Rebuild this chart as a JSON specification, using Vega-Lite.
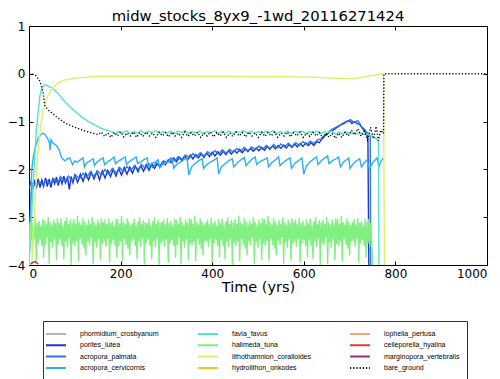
{
"$schema": "https://vega.github.io/schema/vega-lite/v6.json",
"width": 458, "height": 239,
"autosize": {"type": "none"},
"padding": {"left": 29, "top": 26, "right": 13, "bottom": 114},
"title": {"text": "midw_stocks_8yx9_-1wd_20116271424", "fontSize": 14.8, "fontWeight": "normal", "font": "DejaVu Sans", "offset": -4, "color": "#000"},
"datasets": {
"d": [
{"s":"porites_lutea","t":0,"v":-2.4},{"s":"porites_lutea","t":4,"v":-2.25},{"s":"porites_lutea","t":8,"v":-2.42},{"s":"porites_lutea","t":12,"v":-2.22},{"s":"porites_lutea","t":16,"v":-2.4},{"s":"porites_lutea","t":20,"v":-2.2},{"s":"porites_lutea","t":24,"v":-2.38},{"s":"porites_lutea","t":28,"v":-2.22},{"s":"porites_lutea","t":32,"v":-2.35},{"s":"porites_lutea","t":36,"v":-2.18},{"s":"porites_lutea","t":40,"v":-2.36},{"s":"porites_lutea","t":44,"v":-2.2},{"s":"porites_lutea","t":48,"v":-2.38},{"s":"porites_lutea","t":52,"v":-2.18},{"s":"porites_lutea","t":56,"v":-2.3},{"s":"porites_lutea","t":60,"v":-2.16},{"s":"porites_lutea","t":64,"v":-2.34},{"s":"porites_lutea","t":68,"v":-2.17},{"s":"porites_lutea","t":72,"v":-2.3},{"s":"porites_lutea","t":76,"v":-2.14},{"s":"porites_lutea","t":80,"v":-2.28},{"s":"porites_lutea","t":84,"v":-2.16},{"s":"porites_lutea","t":88,"v":-2.42},{"s":"porites_lutea","t":92,"v":-2.15},{"s":"porites_lutea","t":96,"v":-2.28},{"s":"porites_lutea","t":100,"v":-2.12},{"s":"porites_lutea","t":106,"v":-2.27},{"s":"porites_lutea","t":112,"v":-2.1},{"s":"porites_lutea","t":118,"v":-2.25},{"s":"porites_lutea","t":124,"v":-2.08},{"s":"porites_lutea","t":130,"v":-2.22},{"s":"porites_lutea","t":136,"v":-2.06},{"s":"porites_lutea","t":142,"v":-2.2},{"s":"porites_lutea","t":148,"v":-2.05},{"s":"porites_lutea","t":154,"v":-2.22},{"s":"porites_lutea","t":160,"v":-2.03},{"s":"porites_lutea","t":166,"v":-2.18},{"s":"porites_lutea","t":172,"v":-2.02},{"s":"porites_lutea","t":178,"v":-2.15},{"s":"porites_lutea","t":184,"v":-2.0},{"s":"porites_lutea","t":190,"v":-2.14},{"s":"porites_lutea","t":196,"v":-1.98},{"s":"porites_lutea","t":202,"v":-2.12},{"s":"porites_lutea","t":208,"v":-1.96},{"s":"porites_lutea","t":214,"v":-2.1},{"s":"porites_lutea","t":220,"v":-1.95},{"s":"porites_lutea","t":226,"v":-2.08},{"s":"porites_lutea","t":232,"v":-1.93},{"s":"porites_lutea","t":238,"v":-2.05},{"s":"porites_lutea","t":244,"v":-1.92},{"s":"porites_lutea","t":250,"v":-2.04},{"s":"porites_lutea","t":256,"v":-1.9},{"s":"porites_lutea","t":262,"v":-2.02},{"s":"porites_lutea","t":268,"v":-1.88},{"s":"porites_lutea","t":274,"v":-1.98},{"s":"porites_lutea","t":280,"v":-1.88},{"s":"porites_lutea","t":286,"v":-1.95},{"s":"porites_lutea","t":292,"v":-1.84},{"s":"porites_lutea","t":298,"v":-1.9},{"s":"porites_lutea","t":304,"v":-1.8},{"s":"porites_lutea","t":310,"v":-1.86},{"s":"porites_lutea","t":316,"v":-1.76},{"s":"porites_lutea","t":322,"v":-1.84},{"s":"porites_lutea","t":328,"v":-1.75},{"s":"porites_lutea","t":334,"v":-1.82},{"s":"porites_lutea","t":340,"v":-1.72},{"s":"porites_lutea","t":346,"v":-1.8},{"s":"porites_lutea","t":352,"v":-1.7},{"s":"porites_lutea","t":358,"v":-1.78},{"s":"porites_lutea","t":364,"v":-1.69},{"s":"porites_lutea","t":370,"v":-1.76},{"s":"porites_lutea","t":376,"v":-1.67},{"s":"porites_lutea","t":382,"v":-1.75},{"s":"porites_lutea","t":388,"v":-1.66},{"s":"porites_lutea","t":394,"v":-1.73},{"s":"porites_lutea","t":400,"v":-1.64},{"s":"porites_lutea","t":406,"v":-1.72},{"s":"porites_lutea","t":412,"v":-1.63},{"s":"porites_lutea","t":418,"v":-1.7},{"s":"porites_lutea","t":424,"v":-1.62},{"s":"porites_lutea","t":430,"v":-1.69},{"s":"porites_lutea","t":436,"v":-1.61},{"s":"porites_lutea","t":442,"v":-1.68},{"s":"porites_lutea","t":448,"v":-1.6},{"s":"porites_lutea","t":454,"v":-1.66},{"s":"porites_lutea","t":460,"v":-1.58},{"s":"porites_lutea","t":466,"v":-1.65},{"s":"porites_lutea","t":472,"v":-1.57},{"s":"porites_lutea","t":478,"v":-1.63},{"s":"porites_lutea","t":484,"v":-1.56},{"s":"porites_lutea","t":490,"v":-1.62},{"s":"porites_lutea","t":496,"v":-1.55},{"s":"porites_lutea","t":502,"v":-1.61},{"s":"porites_lutea","t":508,"v":-1.54},{"s":"porites_lutea","t":514,"v":-1.6},{"s":"porites_lutea","t":520,"v":-1.52},{"s":"porites_lutea","t":526,"v":-1.58},{"s":"porites_lutea","t":532,"v":-1.51},{"s":"porites_lutea","t":538,"v":-1.57},{"s":"porites_lutea","t":544,"v":-1.5},{"s":"porites_lutea","t":550,"v":-1.56},{"s":"porites_lutea","t":556,"v":-1.49},{"s":"porites_lutea","t":562,"v":-1.55},{"s":"porites_lutea","t":568,"v":-1.48},{"s":"porites_lutea","t":574,"v":-1.54},{"s":"porites_lutea","t":580,"v":-1.47},{"s":"porites_lutea","t":586,"v":-1.53},{"s":"porites_lutea","t":592,"v":-1.46},{"s":"porites_lutea","t":598,"v":-1.52},{"s":"porites_lutea","t":604,"v":-1.45},{"s":"porites_lutea","t":610,"v":-1.5},{"s":"porites_lutea","t":616,"v":-1.44},{"s":"porites_lutea","t":622,"v":-1.5},{"s":"porites_lutea","t":628,"v":-1.42},{"s":"porites_lutea","t":634,"v":-1.44},{"s":"porites_lutea","t":640,"v":-1.36},{"s":"porites_lutea","t":646,"v":-1.3},{"s":"porites_lutea","t":652,"v":-1.26},{"s":"porites_lutea","t":658,"v":-1.2},{"s":"porites_lutea","t":664,"v":-1.18},{"s":"porites_lutea","t":670,"v":-1.14},{"s":"porites_lutea","t":676,"v":-1.1},{"s":"porites_lutea","t":682,"v":-1.06},{"s":"porites_lutea","t":688,"v":-1.04},{"s":"porites_lutea","t":694,"v":-1.0},{"s":"porites_lutea","t":700,"v":-0.98},{"s":"porites_lutea","t":705,"v":-1.04},{"s":"porites_lutea","t":710,"v":-1.0},{"s":"porites_lutea","t":716,"v":-1.04},{"s":"porites_lutea","t":722,"v":-1.06},{"s":"porites_lutea","t":728,"v":-1.14},{"s":"porites_lutea","t":734,"v":-1.22},{"s":"porites_lutea","t":738,"v":-1.28},{"s":"porites_lutea","t":740,"v":-1.35},{"s":"porites_lutea","t":742,"v":-4},

{"s":"acropora_palmata","t":0,"v":-4},{"s":"acropora_palmata","t":4,"v":-2.6},{"s":"acropora_palmata","t":8,"v":-2.3},{"s":"acropora_palmata","t":15,"v":-2.36},{"s":"acropora_palmata","t":22,"v":-2.25},{"s":"acropora_palmata","t":30,"v":-2.33},{"s":"acropora_palmata","t":38,"v":-2.22},{"s":"acropora_palmata","t":46,"v":-2.3},{"s":"acropora_palmata","t":54,"v":-2.2},{"s":"acropora_palmata","t":62,"v":-2.28},{"s":"acropora_palmata","t":70,"v":-2.16},{"s":"acropora_palmata","t":78,"v":-2.26},{"s":"acropora_palmata","t":86,"v":-2.14},{"s":"acropora_palmata","t":94,"v":-2.24},{"s":"acropora_palmata","t":102,"v":-2.12},{"s":"acropora_palmata","t":110,"v":-2.2},{"s":"acropora_palmata","t":118,"v":-2.08},{"s":"acropora_palmata","t":126,"v":-2.17},{"s":"acropora_palmata","t":134,"v":-2.05},{"s":"acropora_palmata","t":142,"v":-2.14},{"s":"acropora_palmata","t":150,"v":-2.03},{"s":"acropora_palmata","t":158,"v":-2.12},{"s":"acropora_palmata","t":166,"v":-2.0},{"s":"acropora_palmata","t":174,"v":-2.1},{"s":"acropora_palmata","t":182,"v":-1.98},{"s":"acropora_palmata","t":190,"v":-2.08},{"s":"acropora_palmata","t":198,"v":-1.96},{"s":"acropora_palmata","t":206,"v":-2.05},{"s":"acropora_palmata","t":214,"v":-1.94},{"s":"acropora_palmata","t":222,"v":-2.03},{"s":"acropora_palmata","t":230,"v":-1.92},{"s":"acropora_palmata","t":238,"v":-2.0},{"s":"acropora_palmata","t":246,"v":-1.9},{"s":"acropora_palmata","t":254,"v":-1.98},{"s":"acropora_palmata","t":262,"v":-1.88},{"s":"acropora_palmata","t":270,"v":-1.96},{"s":"acropora_palmata","t":278,"v":-1.86},{"s":"acropora_palmata","t":286,"v":-1.92},{"s":"acropora_palmata","t":294,"v":-1.82},{"s":"acropora_palmata","t":302,"v":-1.86},{"s":"acropora_palmata","t":310,"v":-1.76},{"s":"acropora_palmata","t":318,"v":-1.82},{"s":"acropora_palmata","t":326,"v":-1.73},{"s":"acropora_palmata","t":334,"v":-1.79},{"s":"acropora_palmata","t":342,"v":-1.7},{"s":"acropora_palmata","t":350,"v":-1.76},{"s":"acropora_palmata","t":358,"v":-1.67},{"s":"acropora_palmata","t":366,"v":-1.74},{"s":"acropora_palmata","t":374,"v":-1.65},{"s":"acropora_palmata","t":382,"v":-1.72},{"s":"acropora_palmata","t":390,"v":-1.63},{"s":"acropora_palmata","t":398,"v":-1.7},{"s":"acropora_palmata","t":406,"v":-1.61},{"s":"acropora_palmata","t":414,"v":-1.68},{"s":"acropora_palmata","t":422,"v":-1.59},{"s":"acropora_palmata","t":430,"v":-1.66},{"s":"acropora_palmata","t":438,"v":-1.58},{"s":"acropora_palmata","t":446,"v":-1.64},{"s":"acropora_palmata","t":454,"v":-1.56},{"s":"acropora_palmata","t":462,"v":-1.63},{"s":"acropora_palmata","t":470,"v":-1.54},{"s":"acropora_palmata","t":478,"v":-1.61},{"s":"acropora_palmata","t":486,"v":-1.53},{"s":"acropora_palmata","t":494,"v":-1.59},{"s":"acropora_palmata","t":502,"v":-1.51},{"s":"acropora_palmata","t":510,"v":-1.58},{"s":"acropora_palmata","t":518,"v":-1.5},{"s":"acropora_palmata","t":526,"v":-1.56},{"s":"acropora_palmata","t":534,"v":-1.48},{"s":"acropora_palmata","t":542,"v":-1.55},{"s":"acropora_palmata","t":550,"v":-1.47},{"s":"acropora_palmata","t":558,"v":-1.53},{"s":"acropora_palmata","t":566,"v":-1.45},{"s":"acropora_palmata","t":574,"v":-1.52},{"s":"acropora_palmata","t":582,"v":-1.44},{"s":"acropora_palmata","t":590,"v":-1.5},{"s":"acropora_palmata","t":598,"v":-1.42},{"s":"acropora_palmata","t":606,"v":-1.48},{"s":"acropora_palmata","t":614,"v":-1.41},{"s":"acropora_palmata","t":622,"v":-1.46},{"s":"acropora_palmata","t":630,"v":-1.38},{"s":"acropora_palmata","t":638,"v":-1.36},{"s":"acropora_palmata","t":646,"v":-1.28},{"s":"acropora_palmata","t":654,"v":-1.22},{"s":"acropora_palmata","t":662,"v":-1.16},{"s":"acropora_palmata","t":670,"v":-1.12},{"s":"acropora_palmata","t":678,"v":-1.08},{"s":"acropora_palmata","t":686,"v":-1.03},{"s":"acropora_palmata","t":694,"v":-0.99},{"s":"acropora_palmata","t":702,"v":-0.96},{"s":"acropora_palmata","t":710,"v":-1.02},{"s":"acropora_palmata","t":718,"v":-0.98},{"s":"acropora_palmata","t":726,"v":-1.1},{"s":"acropora_palmata","t":734,"v":-1.18},{"s":"acropora_palmata","t":740,"v":-1.25},{"s":"acropora_palmata","t":745,"v":-1.3},{"s":"acropora_palmata","t":746,"v":-4},

{"s":"acropora_cervicornis","t":0,"v":-4},{"s":"acropora_cervicornis","t":3,"v":-3.0},{"s":"acropora_cervicornis","t":6,"v":-2.0},{"s":"acropora_cervicornis","t":10,"v":-1.7},{"s":"acropora_cervicornis","t":15,"v":-1.5},{"s":"acropora_cervicornis","t":20,"v":-1.35},{"s":"acropora_cervicornis","t":26,"v":-1.27},{"s":"acropora_cervicornis","t":31,"v":-1.24},{"s":"acropora_cervicornis","t":36,"v":-1.28},{"s":"acropora_cervicornis","t":42,"v":-1.38},{"s":"acropora_cervicornis","t":45,"v":-1.45},{"s":"acropora_cervicornis","t":46,"v":-1.6},{"s":"acropora_cervicornis","t":48,"v":-1.38},{"s":"acropora_cervicornis","t":52,"v":-1.45},{"s":"acropora_cervicornis","t":60,"v":-1.5},{"s":"acropora_cervicornis","t":66,"v":-1.6},{"s":"acropora_cervicornis","t":71,"v":-1.75},{"s":"acropora_cervicornis","t":78,"v":-1.82},{"s":"acropora_cervicornis","t":84,"v":-1.78},{"s":"acropora_cervicornis","t":89,"v":-1.76},{"s":"acropora_cervicornis","t":95,"v":-1.9},{"s":"acropora_cervicornis","t":100,"v":-1.82},{"s":"acropora_cervicornis","t":105,"v":-1.85},{"s":"acropora_cervicornis","t":112,"v":-1.8},{"s":"acropora_cervicornis","t":118,"v":-1.76},{"s":"acropora_cervicornis","t":121,"v":-1.95},{"s":"acropora_cervicornis","t":126,"v":-1.86},{"s":"acropora_cervicornis","t":133,"v":-1.82},{"s":"acropora_cervicornis","t":140,"v":-1.78},{"s":"acropora_cervicornis","t":143,"v":-1.92},{"s":"acropora_cervicornis","t":148,"v":-1.85},{"s":"acropora_cervicornis","t":155,"v":-1.8},{"s":"acropora_cervicornis","t":162,"v":-1.76},{"s":"acropora_cervicornis","t":165,"v":-1.9},{"s":"acropora_cervicornis","t":172,"v":-1.84},{"s":"acropora_cervicornis","t":180,"v":-1.79},{"s":"acropora_cervicornis","t":186,"v":-1.74},{"s":"acropora_cervicornis","t":189,"v":-1.88},{"s":"acropora_cervicornis","t":195,"v":-1.83},{"s":"acropora_cervicornis","t":203,"v":-1.78},{"s":"acropora_cervicornis","t":210,"v":-1.74},{"s":"acropora_cervicornis","t":213,"v":-1.9},{"s":"acropora_cervicornis","t":220,"v":-1.83},{"s":"acropora_cervicornis","t":228,"v":-1.78},{"s":"acropora_cervicornis","t":234,"v":-1.74},{"s":"acropora_cervicornis","t":237,"v":-1.88},{"s":"acropora_cervicornis","t":244,"v":-1.84},{"s":"acropora_cervicornis","t":252,"v":-1.79},{"s":"acropora_cervicornis","t":258,"v":-1.76},{"s":"acropora_cervicornis","t":261,"v":-1.95},{"s":"acropora_cervicornis","t":268,"v":-1.88},{"s":"acropora_cervicornis","t":276,"v":-1.84},{"s":"acropora_cervicornis","t":282,"v":-1.8},{"s":"acropora_cervicornis","t":285,"v":-1.97},{"s":"acropora_cervicornis","t":292,"v":-1.9},{"s":"acropora_cervicornis","t":300,"v":-1.86},{"s":"acropora_cervicornis","t":308,"v":-1.82},{"s":"acropora_cervicornis","t":313,"v":-1.78},{"s":"acropora_cervicornis","t":316,"v":-1.98},{"s":"acropora_cervicornis","t":322,"v":-1.9},{"s":"acropora_cervicornis","t":330,"v":-1.85},{"s":"acropora_cervicornis","t":338,"v":-1.8},{"s":"acropora_cervicornis","t":345,"v":-1.76},{"s":"acropora_cervicornis","t":349,"v":-2.12},{"s":"acropora_cervicornis","t":355,"v":-1.95},{"s":"acropora_cervicornis","t":362,"v":-1.88},{"s":"acropora_cervicornis","t":370,"v":-1.82},{"s":"acropora_cervicornis","t":378,"v":-1.78},{"s":"acropora_cervicornis","t":381,"v":-1.98},{"s":"acropora_cervicornis","t":388,"v":-1.9},{"s":"acropora_cervicornis","t":396,"v":-1.85},{"s":"acropora_cervicornis","t":405,"v":-1.8},{"s":"acropora_cervicornis","t":411,"v":-1.76},{"s":"acropora_cervicornis","t":414,"v":-2.1},{"s":"acropora_cervicornis","t":420,"v":-1.95},{"s":"acropora_cervicornis","t":428,"v":-1.88},{"s":"acropora_cervicornis","t":436,"v":-1.82},{"s":"acropora_cervicornis","t":444,"v":-1.78},{"s":"acropora_cervicornis","t":447,"v":-1.95},{"s":"acropora_cervicornis","t":455,"v":-1.86},{"s":"acropora_cervicornis","t":463,"v":-1.8},{"s":"acropora_cervicornis","t":470,"v":-1.75},{"s":"acropora_cervicornis","t":474,"v":-1.92},{"s":"acropora_cervicornis","t":480,"v":-1.85},{"s":"acropora_cervicornis","t":488,"v":-1.78},{"s":"acropora_cervicornis","t":494,"v":-1.74},{"s":"acropora_cervicornis","t":497,"v":-1.9},{"s":"acropora_cervicornis","t":504,"v":-1.84},{"s":"acropora_cervicornis","t":512,"v":-1.8},{"s":"acropora_cervicornis","t":520,"v":-1.76},{"s":"acropora_cervicornis","t":523,"v":-1.95},{"s":"acropora_cervicornis","t":530,"v":-1.86},{"s":"acropora_cervicornis","t":538,"v":-1.8},{"s":"acropora_cervicornis","t":545,"v":-1.74},{"s":"acropora_cervicornis","t":548,"v":-1.92},{"s":"acropora_cervicornis","t":556,"v":-1.85},{"s":"acropora_cervicornis","t":563,"v":-1.8},{"s":"acropora_cervicornis","t":570,"v":-1.76},{"s":"acropora_cervicornis","t":573,"v":-1.98},{"s":"acropora_cervicornis","t":580,"v":-1.88},{"s":"acropora_cervicornis","t":588,"v":-1.82},{"s":"acropora_cervicornis","t":596,"v":-1.76},{"s":"acropora_cervicornis","t":600,"v":-2.1},{"s":"acropora_cervicornis","t":606,"v":-1.92},{"s":"acropora_cervicornis","t":614,"v":-1.84},{"s":"acropora_cervicornis","t":622,"v":-1.78},{"s":"acropora_cervicornis","t":628,"v":-1.74},{"s":"acropora_cervicornis","t":631,"v":-1.9},{"s":"acropora_cervicornis","t":638,"v":-1.82},{"s":"acropora_cervicornis","t":646,"v":-1.76},{"s":"acropora_cervicornis","t":652,"v":-1.72},{"s":"acropora_cervicornis","t":655,"v":-1.88},{"s":"acropora_cervicornis","t":662,"v":-1.82},{"s":"acropora_cervicornis","t":670,"v":-1.78},{"s":"acropora_cervicornis","t":676,"v":-1.74},{"s":"acropora_cervicornis","t":680,"v":-1.95},{"s":"acropora_cervicornis","t":686,"v":-1.85},{"s":"acropora_cervicornis","t":693,"v":-1.8},{"s":"acropora_cervicornis","t":698,"v":-1.76},{"s":"acropora_cervicornis","t":701,"v":-1.98},{"s":"acropora_cervicornis","t":708,"v":-1.88},{"s":"acropora_cervicornis","t":715,"v":-1.82},{"s":"acropora_cervicornis","t":722,"v":-1.78},{"s":"acropora_cervicornis","t":726,"v":-1.95},{"s":"acropora_cervicornis","t":732,"v":-1.86},{"s":"acropora_cervicornis","t":738,"v":-1.8},{"s":"acropora_cervicornis","t":743,"v":-2.0},{"s":"acropora_cervicornis","t":748,"v":-1.9},{"s":"acropora_cervicornis","t":754,"v":-1.82},{"s":"acropora_cervicornis","t":760,"v":-1.76},{"s":"acropora_cervicornis","t":764,"v":-1.95},{"s":"acropora_cervicornis","t":769,"v":-1.82},{"s":"acropora_cervicornis","t":774,"v":-1.76},

{"s":"favia_favus","t":0,"v":-4},{"s":"favia_favus","t":4,"v":-3.3},{"s":"favia_favus","t":8,"v":-2.5},{"s":"favia_favus","t":12,"v":-1.8},{"s":"favia_favus","t":16,"v":-1.2},{"s":"favia_favus","t":20,"v":-0.8},{"s":"favia_favus","t":24,"v":-0.45},{"s":"favia_favus","t":28,"v":-0.3},{"s":"favia_favus","t":35,"v":-0.23},{"s":"favia_favus","t":45,"v":-0.27},{"s":"favia_favus","t":55,"v":-0.33},{"s":"favia_favus","t":64,"v":-0.42},{"s":"favia_favus","t":75,"v":-0.55},{"s":"favia_favus","t":88,"v":-0.68},{"s":"favia_favus","t":100,"v":-0.78},{"s":"favia_favus","t":115,"v":-0.9},{"s":"favia_favus","t":130,"v":-1.0},{"s":"favia_favus","t":145,"v":-1.08},{"s":"favia_favus","t":160,"v":-1.15},{"s":"favia_favus","t":173,"v":-1.19},{"s":"favia_favus","t":181,"v":-1.21},{"s":"favia_favus","t":189,"v":-1.25},{"s":"favia_favus","t":197,"v":-1.2},{"s":"favia_favus","t":205,"v":-1.24},{"s":"favia_favus","t":213,"v":-1.19},{"s":"favia_favus","t":221,"v":-1.25},{"s":"favia_favus","t":229,"v":-1.21},{"s":"favia_favus","t":237,"v":-1.24},{"s":"favia_favus","t":245,"v":-1.19},{"s":"favia_favus","t":253,"v":-1.25},{"s":"favia_favus","t":261,"v":-1.2},{"s":"favia_favus","t":269,"v":-1.23},{"s":"favia_favus","t":277,"v":-1.19},{"s":"favia_favus","t":285,"v":-1.25},{"s":"favia_favus","t":293,"v":-1.21},{"s":"favia_favus","t":301,"v":-1.24},{"s":"favia_favus","t":309,"v":-1.2},{"s":"favia_favus","t":317,"v":-1.25},{"s":"favia_favus","t":325,"v":-1.2},{"s":"favia_favus","t":333,"v":-1.23},{"s":"favia_favus","t":341,"v":-1.19},{"s":"favia_favus","t":349,"v":-1.25},{"s":"favia_favus","t":357,"v":-1.21},{"s":"favia_favus","t":365,"v":-1.24},{"s":"favia_favus","t":373,"v":-1.2},{"s":"favia_favus","t":381,"v":-1.25},{"s":"favia_favus","t":389,"v":-1.21},{"s":"favia_favus","t":397,"v":-1.23},{"s":"favia_favus","t":405,"v":-1.19},{"s":"favia_favus","t":413,"v":-1.25},{"s":"favia_favus","t":421,"v":-1.2},{"s":"favia_favus","t":429,"v":-1.24},{"s":"favia_favus","t":437,"v":-1.2},{"s":"favia_favus","t":445,"v":-1.25},{"s":"favia_favus","t":453,"v":-1.21},{"s":"favia_favus","t":461,"v":-1.23},{"s":"favia_favus","t":469,"v":-1.19},{"s":"favia_favus","t":477,"v":-1.25},{"s":"favia_favus","t":485,"v":-1.2},{"s":"favia_favus","t":493,"v":-1.24},{"s":"favia_favus","t":501,"v":-1.21},{"s":"favia_favus","t":509,"v":-1.25},{"s":"favia_favus","t":517,"v":-1.2},{"s":"favia_favus","t":525,"v":-1.23},{"s":"favia_favus","t":533,"v":-1.19},{"s":"favia_favus","t":541,"v":-1.25},{"s":"favia_favus","t":549,"v":-1.21},{"s":"favia_favus","t":557,"v":-1.24},{"s":"favia_favus","t":565,"v":-1.2},{"s":"favia_favus","t":573,"v":-1.25},{"s":"favia_favus","t":581,"v":-1.2},{"s":"favia_favus","t":589,"v":-1.23},{"s":"favia_favus","t":597,"v":-1.2},{"s":"favia_favus","t":605,"v":-1.25},{"s":"favia_favus","t":613,"v":-1.21},{"s":"favia_favus","t":621,"v":-1.24},{"s":"favia_favus","t":629,"v":-1.2},{"s":"favia_favus","t":637,"v":-1.25},{"s":"favia_favus","t":645,"v":-1.21},{"s":"favia_favus","t":653,"v":-1.23},{"s":"favia_favus","t":661,"v":-1.2},{"s":"favia_favus","t":669,"v":-1.26},{"s":"favia_favus","t":677,"v":-1.22},{"s":"favia_favus","t":685,"v":-1.25},{"s":"favia_favus","t":693,"v":-1.22},{"s":"favia_favus","t":701,"v":-1.26},{"s":"favia_favus","t":709,"v":-1.23},{"s":"favia_favus","t":717,"v":-1.26},{"s":"favia_favus","t":725,"v":-1.24},{"s":"favia_favus","t":733,"v":-1.27},{"s":"favia_favus","t":741,"v":-1.26},{"s":"favia_favus","t":749,"v":-1.3},{"s":"favia_favus","t":755,"v":-1.33},{"s":"favia_favus","t":760,"v":-1.38},{"s":"favia_favus","t":763,"v":-1.42},{"s":"favia_favus","t":764,"v":-4},

{"s":"halimeda_tuna","t":0,"v":-4},
{"s":"halimeda_tuna","t":2,"v":-3.1},{"s":"halimeda_tuna","t":4,"v":-3.5},{"s":"halimeda_tuna","t":6,"v":-3.05},{"s":"halimeda_tuna","t":8,"v":-3.62},{"s":"halimeda_tuna","t":10,"v":-3.15},{"s":"halimeda_tuna","t":12,"v":-3.45},{"s":"halimeda_tuna","t":14,"v":-3.02},{"s":"halimeda_tuna","t":16,"v":-3.95},{"s":"halimeda_tuna","t":18,"v":-3.12},{"s":"halimeda_tuna","t":20,"v":-3.55},{"s":"halimeda_tuna","t":22,"v":-3.08},{"s":"halimeda_tuna","t":24,"v":-3.48},{"s":"halimeda_tuna","t":26,"v":-3.18},{"s":"halimeda_tuna","t":28,"v":-3.6},{"s":"halimeda_tuna","t":30,"v":-3.04},{"s":"halimeda_tuna","t":32,"v":-3.85},
{"s":"halimeda_tuna","t":34,"v":-3.06},{"s":"halimeda_tuna","t":36,"v":-3.58},{"s":"halimeda_tuna","t":38,"v":-3.14},{"s":"halimeda_tuna","t":40,"v":-3.42},{"s":"halimeda_tuna","t":42,"v":-3.0},{"s":"halimeda_tuna","t":44,"v":-3.98},{"s":"halimeda_tuna","t":46,"v":-3.1},{"s":"halimeda_tuna","t":48,"v":-3.52},{"s":"halimeda_tuna","t":50,"v":-3.16},{"s":"halimeda_tuna","t":52,"v":-3.64},{"s":"halimeda_tuna","t":54,"v":-3.05},{"s":"halimeda_tuna","t":56,"v":-3.46},{"s":"halimeda_tuna","t":58,"v":-3.12},{"s":"halimeda_tuna","t":60,"v":-3.9},{"s":"halimeda_tuna","t":62,"v":-3.02},{"s":"halimeda_tuna","t":64,"v":-3.56},
{"s":"halimeda_tuna","t":66,"v":-3.12},{"s":"halimeda_tuna","t":68,"v":-3.47},{"s":"halimeda_tuna","t":70,"v":-3.03},{"s":"halimeda_tuna","t":72,"v":-3.6},{"s":"halimeda_tuna","t":74,"v":-3.17},{"s":"halimeda_tuna","t":76,"v":-3.88},{"s":"halimeda_tuna","t":78,"v":-3.08},{"s":"halimeda_tuna","t":80,"v":-3.5},{"s":"halimeda_tuna","t":82,"v":-3.0},{"s":"halimeda_tuna","t":84,"v":-3.63},{"s":"halimeda_tuna","t":86,"v":-3.14},{"s":"halimeda_tuna","t":88,"v":-3.44},{"s":"halimeda_tuna","t":90,"v":-3.06},{"s":"halimeda_tuna","t":92,"v":-4.0},{"s":"halimeda_tuna","t":94,"v":-3.11},{"s":"halimeda_tuna","t":96,"v":-3.54},
{"s":"halimeda_tuna","t":98,"v":-3.04},{"s":"halimeda_tuna","t":100,"v":-3.6},{"s":"halimeda_tuna","t":102,"v":-3.13},{"s":"halimeda_tuna","t":104,"v":-3.5},{"s":"halimeda_tuna","t":106,"v":-2.97},{"s":"halimeda_tuna","t":108,"v":-3.92},{"s":"halimeda_tuna","t":110,"v":-3.1},{"s":"halimeda_tuna","t":112,"v":-3.45},{"s":"halimeda_tuna","t":114,"v":-3.15},{"s":"halimeda_tuna","t":116,"v":-3.58},{"s":"halimeda_tuna","t":118,"v":-3.02},{"s":"halimeda_tuna","t":120,"v":-3.66},{"s":"halimeda_tuna","t":122,"v":-3.09},{"s":"halimeda_tuna","t":124,"v":-3.8},{"s":"halimeda_tuna","t":126,"v":-3.16},{"s":"halimeda_tuna","t":128,"v":-3.5},
{"s":"halimeda_tuna","t":130,"v":-3.06},{"s":"halimeda_tuna","t":132,"v":-3.58},{"s":"halimeda_tuna","t":134,"v":-3.14},{"s":"halimeda_tuna","t":136,"v":-3.42},{"s":"halimeda_tuna","t":138,"v":-3.0},{"s":"halimeda_tuna","t":140,"v":-3.98},{"s":"halimeda_tuna","t":142,"v":-3.1},{"s":"halimeda_tuna","t":144,"v":-3.52},{"s":"halimeda_tuna","t":146,"v":-3.16},{"s":"halimeda_tuna","t":148,"v":-3.64},{"s":"halimeda_tuna","t":150,"v":-3.05},{"s":"halimeda_tuna","t":152,"v":-3.46},{"s":"halimeda_tuna","t":154,"v":-3.12},{"s":"halimeda_tuna","t":156,"v":-3.9},{"s":"halimeda_tuna","t":158,"v":-3.02},{"s":"halimeda_tuna","t":160,"v":-3.56},
{"s":"halimeda_tuna","t":162,"v":-3.1},{"s":"halimeda_tuna","t":164,"v":-3.5},{"s":"halimeda_tuna","t":166,"v":-3.05},{"s":"halimeda_tuna","t":168,"v":-3.62},{"s":"halimeda_tuna","t":170,"v":-3.15},{"s":"halimeda_tuna","t":172,"v":-3.45},{"s":"halimeda_tuna","t":174,"v":-3.02},{"s":"halimeda_tuna","t":176,"v":-3.95},{"s":"halimeda_tuna","t":178,"v":-3.12},{"s":"halimeda_tuna","t":180,"v":-3.55},{"s":"halimeda_tuna","t":182,"v":-3.08},{"s":"halimeda_tuna","t":184,"v":-3.48},{"s":"halimeda_tuna","t":186,"v":-3.18},{"s":"halimeda_tuna","t":188,"v":-3.6},{"s":"halimeda_tuna","t":190,"v":-3.04},{"s":"halimeda_tuna","t":192,"v":-3.85},
{"s":"halimeda_tuna","t":194,"v":-3.04},{"s":"halimeda_tuna","t":196,"v":-3.6},{"s":"halimeda_tuna","t":198,"v":-3.13},{"s":"halimeda_tuna","t":200,"v":-3.5},{"s":"halimeda_tuna","t":202,"v":-2.97},{"s":"halimeda_tuna","t":204,"v":-3.92},{"s":"halimeda_tuna","t":206,"v":-3.1},{"s":"halimeda_tuna","t":208,"v":-3.45},{"s":"halimeda_tuna","t":210,"v":-3.15},{"s":"halimeda_tuna","t":212,"v":-3.58},{"s":"halimeda_tuna","t":214,"v":-3.02},{"s":"halimeda_tuna","t":216,"v":-3.66},{"s":"halimeda_tuna","t":218,"v":-3.09},{"s":"halimeda_tuna","t":220,"v":-3.8},{"s":"halimeda_tuna","t":222,"v":-3.16},{"s":"halimeda_tuna","t":224,"v":-3.5},
{"s":"halimeda_tuna","t":226,"v":-3.12},{"s":"halimeda_tuna","t":228,"v":-3.47},{"s":"halimeda_tuna","t":230,"v":-3.03},{"s":"halimeda_tuna","t":232,"v":-3.6},{"s":"halimeda_tuna","t":234,"v":-3.17},{"s":"halimeda_tuna","t":236,"v":-3.88},{"s":"halimeda_tuna","t":238,"v":-3.08},{"s":"halimeda_tuna","t":240,"v":-3.5},{"s":"halimeda_tuna","t":242,"v":-3.0},{"s":"halimeda_tuna","t":244,"v":-3.63},{"s":"halimeda_tuna","t":246,"v":-3.14},{"s":"halimeda_tuna","t":248,"v":-3.44},{"s":"halimeda_tuna","t":250,"v":-3.06},{"s":"halimeda_tuna","t":252,"v":-4.0},{"s":"halimeda_tuna","t":254,"v":-3.11},{"s":"halimeda_tuna","t":256,"v":-3.54},
{"s":"halimeda_tuna","t":258,"v":-3.12},{"s":"halimeda_tuna","t":260,"v":-3.47},{"s":"halimeda_tuna","t":262,"v":-3.03},{"s":"halimeda_tuna","t":264,"v":-3.6},{"s":"halimeda_tuna","t":266,"v":-3.17},{"s":"halimeda_tuna","t":268,"v":-3.88},{"s":"halimeda_tuna","t":270,"v":-3.08},{"s":"halimeda_tuna","t":272,"v":-3.5},{"s":"halimeda_tuna","t":274,"v":-3.0},{"s":"halimeda_tuna","t":276,"v":-3.63},{"s":"halimeda_tuna","t":278,"v":-3.14},{"s":"halimeda_tuna","t":280,"v":-3.44},{"s":"halimeda_tuna","t":282,"v":-3.06},{"s":"halimeda_tuna","t":284,"v":-4.0},{"s":"halimeda_tuna","t":286,"v":-3.11},{"s":"halimeda_tuna","t":288,"v":-3.54},
{"s":"halimeda_tuna","t":290,"v":-3.1},{"s":"halimeda_tuna","t":292,"v":-3.5},{"s":"halimeda_tuna","t":294,"v":-3.05},{"s":"halimeda_tuna","t":296,"v":-3.62},{"s":"halimeda_tuna","t":298,"v":-3.15},{"s":"halimeda_tuna","t":300,"v":-3.45},{"s":"halimeda_tuna","t":302,"v":-3.02},{"s":"halimeda_tuna","t":304,"v":-3.95},{"s":"halimeda_tuna","t":306,"v":-3.12},{"s":"halimeda_tuna","t":308,"v":-3.55},{"s":"halimeda_tuna","t":310,"v":-3.08},{"s":"halimeda_tuna","t":312,"v":-3.48},{"s":"halimeda_tuna","t":314,"v":-3.18},{"s":"halimeda_tuna","t":316,"v":-3.6},{"s":"halimeda_tuna","t":318,"v":-3.04},{"s":"halimeda_tuna","t":320,"v":-3.85},
{"s":"halimeda_tuna","t":322,"v":-3.06},{"s":"halimeda_tuna","t":324,"v":-3.58},{"s":"halimeda_tuna","t":326,"v":-3.14},{"s":"halimeda_tuna","t":328,"v":-3.42},{"s":"halimeda_tuna","t":330,"v":-3.0},{"s":"halimeda_tuna","t":332,"v":-3.98},{"s":"halimeda_tuna","t":334,"v":-3.1},{"s":"halimeda_tuna","t":336,"v":-3.52},{"s":"halimeda_tuna","t":338,"v":-3.16},{"s":"halimeda_tuna","t":340,"v":-3.64},{"s":"halimeda_tuna","t":342,"v":-3.05},{"s":"halimeda_tuna","t":344,"v":-3.46},{"s":"halimeda_tuna","t":346,"v":-3.12},{"s":"halimeda_tuna","t":348,"v":-3.9},{"s":"halimeda_tuna","t":350,"v":-3.02},{"s":"halimeda_tuna","t":352,"v":-3.56},
{"s":"halimeda_tuna","t":354,"v":-3.04},{"s":"halimeda_tuna","t":356,"v":-3.6},{"s":"halimeda_tuna","t":358,"v":-3.13},{"s":"halimeda_tuna","t":360,"v":-3.5},{"s":"halimeda_tuna","t":362,"v":-2.97},{"s":"halimeda_tuna","t":364,"v":-3.92},{"s":"halimeda_tuna","t":366,"v":-3.1},{"s":"halimeda_tuna","t":368,"v":-3.45},{"s":"halimeda_tuna","t":370,"v":-3.15},{"s":"halimeda_tuna","t":372,"v":-3.58},{"s":"halimeda_tuna","t":374,"v":-3.02},{"s":"halimeda_tuna","t":376,"v":-3.66},{"s":"halimeda_tuna","t":378,"v":-3.09},{"s":"halimeda_tuna","t":380,"v":-3.8},{"s":"halimeda_tuna","t":382,"v":-3.16},{"s":"halimeda_tuna","t":384,"v":-3.5},
{"s":"halimeda_tuna","t":386,"v":-3.1},{"s":"halimeda_tuna","t":388,"v":-3.5},{"s":"halimeda_tuna","t":390,"v":-3.05},{"s":"halimeda_tuna","t":392,"v":-3.62},{"s":"halimeda_tuna","t":394,"v":-3.15},{"s":"halimeda_tuna","t":396,"v":-3.45},{"s":"halimeda_tuna","t":398,"v":-3.02},{"s":"halimeda_tuna","t":400,"v":-3.95},{"s":"halimeda_tuna","t":402,"v":-3.12},{"s":"halimeda_tuna","t":404,"v":-3.55},{"s":"halimeda_tuna","t":406,"v":-3.08},{"s":"halimeda_tuna","t":408,"v":-3.48},{"s":"halimeda_tuna","t":410,"v":-3.18},{"s":"halimeda_tuna","t":412,"v":-3.6},{"s":"halimeda_tuna","t":414,"v":-3.04},{"s":"halimeda_tuna","t":416,"v":-3.85},
{"s":"halimeda_tuna","t":418,"v":-3.12},{"s":"halimeda_tuna","t":420,"v":-3.47},{"s":"halimeda_tuna","t":422,"v":-3.03},{"s":"halimeda_tuna","t":424,"v":-3.6},{"s":"halimeda_tuna","t":426,"v":-3.17},{"s":"halimeda_tuna","t":428,"v":-3.88},{"s":"halimeda_tuna","t":430,"v":-3.08},{"s":"halimeda_tuna","t":432,"v":-3.5},{"s":"halimeda_tuna","t":434,"v":-3.0},{"s":"halimeda_tuna","t":436,"v":-3.63},{"s":"halimeda_tuna","t":438,"v":-3.14},{"s":"halimeda_tuna","t":440,"v":-3.44},{"s":"halimeda_tuna","t":442,"v":-3.06},{"s":"halimeda_tuna","t":444,"v":-4.0},{"s":"halimeda_tuna","t":446,"v":-3.11},{"s":"halimeda_tuna","t":448,"v":-3.54},
{"s":"halimeda_tuna","t":450,"v":-3.04},{"s":"halimeda_tuna","t":452,"v":-3.6},{"s":"halimeda_tuna","t":454,"v":-3.13},{"s":"halimeda_tuna","t":456,"v":-3.5},{"s":"halimeda_tuna","t":458,"v":-2.97},{"s":"halimeda_tuna","t":460,"v":-3.92},{"s":"halimeda_tuna","t":462,"v":-3.1},{"s":"halimeda_tuna","t":464,"v":-3.45},{"s":"halimeda_tuna","t":466,"v":-3.15},{"s":"halimeda_tuna","t":468,"v":-3.58},{"s":"halimeda_tuna","t":470,"v":-3.02},{"s":"halimeda_tuna","t":472,"v":-3.66},{"s":"halimeda_tuna","t":474,"v":-3.09},{"s":"halimeda_tuna","t":476,"v":-3.8},{"s":"halimeda_tuna","t":478,"v":-3.16},{"s":"halimeda_tuna","t":480,"v":-3.5},
{"s":"halimeda_tuna","t":482,"v":-3.06},{"s":"halimeda_tuna","t":484,"v":-3.58},{"s":"halimeda_tuna","t":486,"v":-3.14},{"s":"halimeda_tuna","t":488,"v":-3.42},{"s":"halimeda_tuna","t":490,"v":-3.0},{"s":"halimeda_tuna","t":492,"v":-3.98},{"s":"halimeda_tuna","t":494,"v":-3.1},{"s":"halimeda_tuna","t":496,"v":-3.52},{"s":"halimeda_tuna","t":498,"v":-3.16},{"s":"halimeda_tuna","t":500,"v":-3.64},{"s":"halimeda_tuna","t":502,"v":-3.05},{"s":"halimeda_tuna","t":504,"v":-3.46},{"s":"halimeda_tuna","t":506,"v":-3.12},{"s":"halimeda_tuna","t":508,"v":-3.9},{"s":"halimeda_tuna","t":510,"v":-3.02},{"s":"halimeda_tuna","t":512,"v":-3.56},
{"s":"halimeda_tuna","t":514,"v":-3.04},{"s":"halimeda_tuna","t":516,"v":-3.6},{"s":"halimeda_tuna","t":518,"v":-3.13},{"s":"halimeda_tuna","t":520,"v":-3.5},{"s":"halimeda_tuna","t":522,"v":-2.97},{"s":"halimeda_tuna","t":524,"v":-3.92},{"s":"halimeda_tuna","t":526,"v":-3.1},{"s":"halimeda_tuna","t":528,"v":-3.45},{"s":"halimeda_tuna","t":530,"v":-3.15},{"s":"halimeda_tuna","t":532,"v":-3.58},{"s":"halimeda_tuna","t":534,"v":-3.02},{"s":"halimeda_tuna","t":536,"v":-3.66},{"s":"halimeda_tuna","t":538,"v":-3.09},{"s":"halimeda_tuna","t":540,"v":-3.8},{"s":"halimeda_tuna","t":542,"v":-3.16},{"s":"halimeda_tuna","t":544,"v":-3.5},
{"s":"halimeda_tuna","t":546,"v":-3.06},{"s":"halimeda_tuna","t":548,"v":-3.58},{"s":"halimeda_tuna","t":550,"v":-3.14},{"s":"halimeda_tuna","t":552,"v":-3.42},{"s":"halimeda_tuna","t":554,"v":-3.0},{"s":"halimeda_tuna","t":556,"v":-3.98},{"s":"halimeda_tuna","t":558,"v":-3.1},{"s":"halimeda_tuna","t":560,"v":-3.52},{"s":"halimeda_tuna","t":562,"v":-3.16},{"s":"halimeda_tuna","t":564,"v":-3.64},{"s":"halimeda_tuna","t":566,"v":-3.05},{"s":"halimeda_tuna","t":568,"v":-3.46},{"s":"halimeda_tuna","t":570,"v":-3.12},{"s":"halimeda_tuna","t":572,"v":-3.9},{"s":"halimeda_tuna","t":574,"v":-3.02},{"s":"halimeda_tuna","t":576,"v":-3.56},
{"s":"halimeda_tuna","t":578,"v":-3.1},{"s":"halimeda_tuna","t":580,"v":-3.5},{"s":"halimeda_tuna","t":582,"v":-3.05},{"s":"halimeda_tuna","t":584,"v":-3.62},{"s":"halimeda_tuna","t":586,"v":-3.15},{"s":"halimeda_tuna","t":588,"v":-3.45},{"s":"halimeda_tuna","t":590,"v":-3.02},{"s":"halimeda_tuna","t":592,"v":-3.95},{"s":"halimeda_tuna","t":594,"v":-3.12},{"s":"halimeda_tuna","t":596,"v":-3.55},{"s":"halimeda_tuna","t":598,"v":-3.08},{"s":"halimeda_tuna","t":600,"v":-3.48},{"s":"halimeda_tuna","t":602,"v":-3.18},{"s":"halimeda_tuna","t":604,"v":-3.6},{"s":"halimeda_tuna","t":606,"v":-3.04},{"s":"halimeda_tuna","t":608,"v":-3.85},
{"s":"halimeda_tuna","t":610,"v":-3.12},{"s":"halimeda_tuna","t":612,"v":-3.47},{"s":"halimeda_tuna","t":614,"v":-3.03},{"s":"halimeda_tuna","t":616,"v":-3.6},{"s":"halimeda_tuna","t":618,"v":-3.17},{"s":"halimeda_tuna","t":620,"v":-3.88},{"s":"halimeda_tuna","t":622,"v":-3.08},{"s":"halimeda_tuna","t":624,"v":-3.5},{"s":"halimeda_tuna","t":626,"v":-3.0},{"s":"halimeda_tuna","t":628,"v":-3.63},{"s":"halimeda_tuna","t":630,"v":-3.14},{"s":"halimeda_tuna","t":632,"v":-3.44},{"s":"halimeda_tuna","t":634,"v":-3.06},{"s":"halimeda_tuna","t":636,"v":-4.0},{"s":"halimeda_tuna","t":638,"v":-3.11},{"s":"halimeda_tuna","t":640,"v":-3.54},
{"s":"halimeda_tuna","t":642,"v":-3.06},{"s":"halimeda_tuna","t":644,"v":-3.58},{"s":"halimeda_tuna","t":646,"v":-3.14},{"s":"halimeda_tuna","t":648,"v":-3.42},{"s":"halimeda_tuna","t":650,"v":-3.0},{"s":"halimeda_tuna","t":652,"v":-3.98},{"s":"halimeda_tuna","t":654,"v":-3.1},{"s":"halimeda_tuna","t":656,"v":-3.52},{"s":"halimeda_tuna","t":658,"v":-3.16},{"s":"halimeda_tuna","t":660,"v":-3.64},{"s":"halimeda_tuna","t":662,"v":-3.05},{"s":"halimeda_tuna","t":664,"v":-3.46},{"s":"halimeda_tuna","t":666,"v":-3.12},{"s":"halimeda_tuna","t":668,"v":-3.9},{"s":"halimeda_tuna","t":670,"v":-3.02},{"s":"halimeda_tuna","t":672,"v":-3.56},
{"s":"halimeda_tuna","t":674,"v":-3.04},{"s":"halimeda_tuna","t":676,"v":-3.6},{"s":"halimeda_tuna","t":678,"v":-3.13},{"s":"halimeda_tuna","t":680,"v":-3.5},{"s":"halimeda_tuna","t":682,"v":-2.97},{"s":"halimeda_tuna","t":684,"v":-3.92},{"s":"halimeda_tuna","t":686,"v":-3.1},{"s":"halimeda_tuna","t":688,"v":-3.45},{"s":"halimeda_tuna","t":690,"v":-3.15},{"s":"halimeda_tuna","t":692,"v":-3.58},{"s":"halimeda_tuna","t":694,"v":-3.02},{"s":"halimeda_tuna","t":696,"v":-3.66},{"s":"halimeda_tuna","t":698,"v":-3.09},{"s":"halimeda_tuna","t":700,"v":-3.8},{"s":"halimeda_tuna","t":702,"v":-3.16},{"s":"halimeda_tuna","t":704,"v":-3.5},
{"s":"halimeda_tuna","t":706,"v":-3.1},{"s":"halimeda_tuna","t":708,"v":-3.5},{"s":"halimeda_tuna","t":710,"v":-3.05},{"s":"halimeda_tuna","t":712,"v":-3.62},{"s":"halimeda_tuna","t":714,"v":-3.15},{"s":"halimeda_tuna","t":716,"v":-3.45},{"s":"halimeda_tuna","t":718,"v":-3.02},{"s":"halimeda_tuna","t":720,"v":-3.95},{"s":"halimeda_tuna","t":722,"v":-3.12},{"s":"halimeda_tuna","t":724,"v":-3.55},{"s":"halimeda_tuna","t":726,"v":-3.08},{"s":"halimeda_tuna","t":728,"v":-3.48},{"s":"halimeda_tuna","t":730,"v":-3.18},{"s":"halimeda_tuna","t":732,"v":-3.6},{"s":"halimeda_tuna","t":734,"v":-3.04},{"s":"halimeda_tuna","t":736,"v":-3.85},
{"s":"halimeda_tuna","t":738,"v":-3.1},{"s":"halimeda_tuna","t":740,"v":-3.55},{"s":"halimeda_tuna","t":742,"v":-3.04},{"s":"halimeda_tuna","t":744,"v":-3.62},{"s":"halimeda_tuna","t":746,"v":-3.12},{"s":"halimeda_tuna","t":748,"v":-3.5},{"s":"halimeda_tuna","t":751,"v":-4},

{"s":"lithothamnion_coralloides","t":0,"v":-4},{"s":"lithothamnion_coralloides","t":6,"v":-4},{"s":"lithothamnion_coralloides","t":10,"v":-3.2},{"s":"lithothamnion_coralloides","t":14,"v":-2.5},{"s":"lithothamnion_coralloides","t":17,"v":-1.95},{"s":"lithothamnion_coralloides","t":21,"v":-1.5},{"s":"lithothamnion_coralloides","t":25,"v":-1.15},{"s":"lithothamnion_coralloides","t":31,"v":-0.75},{"s":"lithothamnion_coralloides","t":38,"v":-0.52},{"s":"lithothamnion_coralloides","t":46,"v":-0.37},{"s":"lithothamnion_coralloides","t":55,"v":-0.26},{"s":"lithothamnion_coralloides","t":65,"v":-0.18},{"s":"lithothamnion_coralloides","t":82,"v":-0.12},{"s":"lithothamnion_coralloides","t":100,"v":-0.09},{"s":"lithothamnion_coralloides","t":126,"v":-0.07},{"s":"lithothamnion_coralloides","t":160,"v":-0.05},{"s":"lithothamnion_coralloides","t":250,"v":-0.05},{"s":"lithothamnion_coralloides","t":400,"v":-0.05},{"s":"lithothamnion_coralloides","t":550,"v":-0.06},{"s":"lithothamnion_coralloides","t":620,"v":-0.07},{"s":"lithothamnion_coralloides","t":660,"v":-0.09},{"s":"lithothamnion_coralloides","t":690,"v":-0.1},{"s":"lithothamnion_coralloides","t":710,"v":-0.1},{"s":"lithothamnion_coralloides","t":725,"v":-0.08},{"s":"lithothamnion_coralloides","t":740,"v":-0.05},{"s":"lithothamnion_coralloides","t":760,"v":-0.02},{"s":"lithothamnion_coralloides","t":774,"v":0},{"s":"lithothamnion_coralloides","t":776,"v":-4},

{"s":"marginopora_vertebralis","t":4,"v":-3.98},{"s":"marginopora_vertebralis","t":9,"v":-3.94},{"s":"marginopora_vertebralis","t":14,"v":-3.93},{"s":"marginopora_vertebralis","t":20,"v":-3.98},

{"s":"bare_ground","t":0,"v":0},{"s":"bare_ground","t":8,"v":-0.01},{"s":"bare_ground","t":15,"v":-0.04},{"s":"bare_ground","t":20,"v":-0.1},{"s":"bare_ground","t":24,"v":-0.16},{"s":"bare_ground","t":28,"v":-0.28},{"s":"bare_ground","t":31,"v":-0.4},{"s":"bare_ground","t":33,"v":-0.55},{"s":"bare_ground","t":35,"v":-0.68},{"s":"bare_ground","t":42,"v":-0.76},{"s":"bare_ground","t":50,"v":-0.82},{"s":"bare_ground","t":60,"v":-0.9},{"s":"bare_ground","t":70,"v":-0.97},{"s":"bare_ground","t":79,"v":-1.03},{"s":"bare_ground","t":90,"v":-1.08},{"s":"bare_ground","t":100,"v":-1.12},{"s":"bare_ground","t":115,"v":-1.17},{"s":"bare_ground","t":130,"v":-1.22},{"s":"bare_ground","t":151,"v":-1.27},{"s":"bare_ground","t":158,"v":-1.22},{"s":"bare_ground","t":165,"v":-1.31},{"s":"bare_ground","t":172,"v":-1.24},{"s":"bare_ground","t":179,"v":-1.33},{"s":"bare_ground","t":186,"v":-1.23},{"s":"bare_ground","t":193,"v":-1.3},{"s":"bare_ground","t":200,"v":-1.22},{"s":"bare_ground","t":207,"v":-1.32},{"s":"bare_ground","t":214,"v":-1.24},{"s":"bare_ground","t":221,"v":-1.3},{"s":"bare_ground","t":228,"v":-1.22},{"s":"bare_ground","t":235,"v":-1.33},{"s":"bare_ground","t":242,"v":-1.23},{"s":"bare_ground","t":249,"v":-1.31},{"s":"bare_ground","t":256,"v":-1.22},{"s":"bare_ground","t":263,"v":-1.3},{"s":"bare_ground","t":270,"v":-1.24},{"s":"bare_ground","t":277,"v":-1.33},{"s":"bare_ground","t":284,"v":-1.22},{"s":"bare_ground","t":291,"v":-1.3},{"s":"bare_ground","t":298,"v":-1.23},{"s":"bare_ground","t":305,"v":-1.32},{"s":"bare_ground","t":312,"v":-1.22},{"s":"bare_ground","t":319,"v":-1.3},{"s":"bare_ground","t":326,"v":-1.24},{"s":"bare_ground","t":333,"v":-1.33},{"s":"bare_ground","t":340,"v":-1.22},{"s":"bare_ground","t":347,"v":-1.31},{"s":"bare_ground","t":354,"v":-1.23},{"s":"bare_ground","t":361,"v":-1.3},{"s":"bare_ground","t":368,"v":-1.22},{"s":"bare_ground","t":375,"v":-1.33},{"s":"bare_ground","t":382,"v":-1.24},{"s":"bare_ground","t":389,"v":-1.3},{"s":"bare_ground","t":396,"v":-1.22},{"s":"bare_ground","t":403,"v":-1.32},{"s":"bare_ground","t":410,"v":-1.23},{"s":"bare_ground","t":417,"v":-1.3},{"s":"bare_ground","t":424,"v":-1.22},{"s":"bare_ground","t":431,"v":-1.33},{"s":"bare_ground","t":438,"v":-1.24},{"s":"bare_ground","t":445,"v":-1.31},{"s":"bare_ground","t":452,"v":-1.22},{"s":"bare_ground","t":459,"v":-1.3},{"s":"bare_ground","t":466,"v":-1.23},{"s":"bare_ground","t":473,"v":-1.32},{"s":"bare_ground","t":480,"v":-1.22},{"s":"bare_ground","t":487,"v":-1.3},{"s":"bare_ground","t":494,"v":-1.24},{"s":"bare_ground","t":501,"v":-1.33},{"s":"bare_ground","t":508,"v":-1.22},{"s":"bare_ground","t":515,"v":-1.31},{"s":"bare_ground","t":522,"v":-1.23},{"s":"bare_ground","t":529,"v":-1.3},{"s":"bare_ground","t":536,"v":-1.22},{"s":"bare_ground","t":543,"v":-1.33},{"s":"bare_ground","t":550,"v":-1.24},{"s":"bare_ground","t":557,"v":-1.3},{"s":"bare_ground","t":564,"v":-1.22},{"s":"bare_ground","t":571,"v":-1.32},{"s":"bare_ground","t":578,"v":-1.23},{"s":"bare_ground","t":585,"v":-1.3},{"s":"bare_ground","t":592,"v":-1.22},{"s":"bare_ground","t":599,"v":-1.33},{"s":"bare_ground","t":606,"v":-1.24},{"s":"bare_ground","t":613,"v":-1.31},{"s":"bare_ground","t":620,"v":-1.22},{"s":"bare_ground","t":627,"v":-1.3},{"s":"bare_ground","t":634,"v":-1.23},{"s":"bare_ground","t":641,"v":-1.34},{"s":"bare_ground","t":648,"v":-1.24},{"s":"bare_ground","t":655,"v":-1.33},{"s":"bare_ground","t":662,"v":-1.25},{"s":"bare_ground","t":669,"v":-1.35},{"s":"bare_ground","t":676,"v":-1.24},{"s":"bare_ground","t":683,"v":-1.33},{"s":"bare_ground","t":690,"v":-1.22},{"s":"bare_ground","t":697,"v":-1.3},{"s":"bare_ground","t":704,"v":-1.18},{"s":"bare_ground","t":711,"v":-1.28},{"s":"bare_ground","t":718,"v":-1.15},{"s":"bare_ground","t":725,"v":-1.3},{"s":"bare_ground","t":732,"v":-1.2},{"s":"bare_ground","t":739,"v":-1.38},{"s":"bare_ground","t":746,"v":-1.12},{"s":"bare_ground","t":752,"v":-1.36},{"s":"bare_ground","t":758,"v":-1.1},{"s":"bare_ground","t":763,"v":-1.4},{"s":"bare_ground","t":768,"v":-1.18},{"s":"bare_ground","t":774,"v":-1.25},{"s":"bare_ground","t":775,"v":0},{"s":"bare_ground","t":1000,"v":0}
]
},
"data": {"name": "d"},
"layer": [
{
"mark": {"type": "line", "strokeWidth": 1.4, "clip": true},
"encoding": {
"x": {"field": "t", "type": "quantitative", "scale": {"domain": [0, 1000], "nice": false},
 "axis": {"title": "Time (yrs)", "values": [0, 200, 400, 600, 800, 1000], "format": "d", "grid": false, "domain": false, "tickSize": -4, "tickColor": "#000", "labelPadding": 7, "titlePadding": 1}},
"y": {"field": "v", "type": "quantitative", "scale": {"domain": [-4, 1], "nice": false, "zero": false},
 "axis": {"title": null, "values": [-4, -3, -2, -1, 0, 1], "format": "d", "grid": false, "domain": false, "tickSize": -4, "tickColor": "#000", "labelPadding": 8}},
"color": {"field": "s", "type": "nominal", "title": null,
 "scale": {"domain": ["phormidium_crosbyanum", "porites_lutea", "acropora_palmata", "acropora_cervicornis", "favia_favus", "halimeda_tuna", "lithothamnion_coralloides", "hydrolithon_onkodes", "lophelia_pertusa", "celleporella_hyalina", "marginopora_vertebralis", "bare_ground"],
  "range": ["#b4b4b4", "#1f35c8", "#2f78e8", "#2eaff0", "#4fe6c9", "#80f080", "#dcf06a", "#f8c030", "#ffa070", "#e03a3a", "#9a3070", "#000000"]}},
"strokeDash": {"field": "s", "type": "nominal", "title": null,
 "scale": {"domain": ["phormidium_crosbyanum", "porites_lutea", "acropora_palmata", "acropora_cervicornis", "favia_favus", "halimeda_tuna", "lithothamnion_coralloides", "hydrolithon_onkodes", "lophelia_pertusa", "celleporella_hyalina", "marginopora_vertebralis", "bare_ground"],
  "range": [[1, 0], [1, 0], [1, 0], [1, 0], [1, 0], [1, 0], [1, 0], [1, 0], [1, 0], [1, 0], [1, 0], [1.2, 2]]}}
}
},
{
"mark": {"type": "point", "opacity": 0},
"encoding": {
"x": {"field": "t", "type": "quantitative", "scale": {"domain": [0, 1000], "nice": false},
 "axis": {"orient": "top", "title": null, "labels": false, "values": [0, 200, 400, 600, 800, 1000], "grid": false, "domain": false, "tickSize": -4, "tickColor": "#000"}},
"y": {"field": "v", "type": "quantitative", "scale": {"domain": [-4, 1], "nice": false, "zero": false},
 "axis": {"orient": "right", "title": null, "labels": false, "values": [-4, -3, -2, -1, 0, 1], "grid": false, "domain": false, "tickSize": -4, "tickColor": "#000"}}
}
}
],
"resolve": {"axis": {"x": "independent", "y": "independent"}},
"config": {
"view": {"stroke": "#000", "strokeWidth": 1},
"axis": {"labelFont": "DejaVu Sans", "labelFontSize": 12, "labelColor": "#000", "titleFont": "DejaVu Sans", "titleFontSize": 14.5, "titleFontWeight": "normal", "titleColor": "#000"},
"legend": {"orient": "none", "legendX": 14, "legendY": 295, "columns": 3, "columnPadding": 35, "rowPadding": 1.3,
 "symbolType": "M-2,0H2", "symbolSize": 100, "symbolStrokeWidth": 2, "labelFont": "Liberation Sans", "labelFontSize": 7, "labelColor": "#000", "labelOffset": 18, "labelLimit": 200,
 "padding": 7, "strokeColor": "#333", "fillColor": "#fff"}
}
}
